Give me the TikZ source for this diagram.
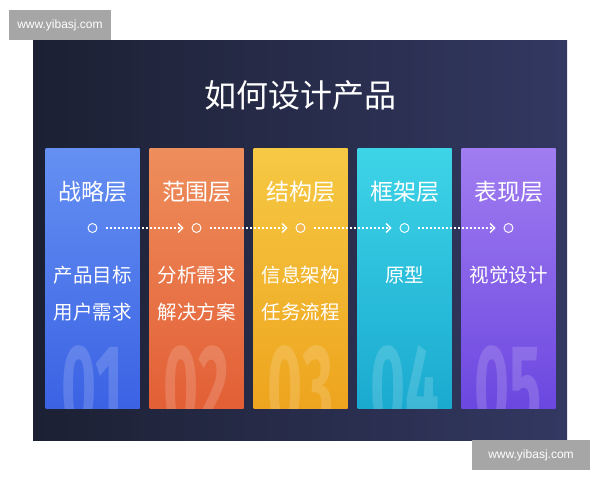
\documentclass[tikz,border=0pt]{standalone}
\usepackage{fontspec}
\usepackage{graphicx}
\setmainfont{Noto Sans CJK SC}
\newfontfamily\markfont{Liberation Sans}
\newfontfamily\numfont{Fira Sans}
\usetikzlibrary{arrows.meta}
\definecolor{panelL}{HTML}{1C2033}
\definecolor{panelR}{HTML}{333862}
\definecolor{blueT}{HTML}{6590F2}
\definecolor{blueB}{HTML}{3B62E4}
\definecolor{orangeT}{HTML}{EE8E5C}
\definecolor{orangeB}{HTML}{E35F36}
\definecolor{yellowT}{HTML}{F6C944}
\definecolor{yellowB}{HTML}{EEA41E}
\definecolor{cyanT}{HTML}{3ED4E7}
\definecolor{cyanB}{HTML}{1AAAD0}
\definecolor{purpleT}{HTML}{A17DF1}
\definecolor{purpleB}{HTML}{6C47E0}
\definecolor{markgray}{HTML}{A6A6A6}
\begin{document}
\begin{tikzpicture}[x=1pt,y=-1pt,
  col/.style={rectangle,inner sep=0,minimum width=94pt,minimum height=260pt},
  head/.style={text=white!96,font=\fontsize{23}{26}\selectfont},
  body/.style={text=white!94,font=\fontsize{19.5}{22}\selectfont},
  dot/.style={circle,inner sep=0,minimum size=9pt,draw=white!75,line width=.9pt},
  flow/.style={white!90,line width=1.3pt,dash pattern=on 1.8pt off 2.2pt,
    -{Straight Barb[length=4.5pt,width=9pt,line width=1.3pt]},shorten <=9pt,shorten >=8pt},
  num/.style={anchor=base,inner sep=0,text=white,text opacity=.16,
    font=\numfont\bfseries\fontsize{120}{120}\selectfont},
  sitemark/.style={fill=markgray,inner sep=0,minimum width=102pt,minimum height=30pt,
    text=white,font=\markfont\fontsize{12}{14}\selectfont}]
  \useasboundingbox[fill=white] (0,0) rectangle (600,480);
  \shade[left color=panelL,right color=panelR] (33,40) rectangle (567,440);
  \node[text=white,font=\fontsize{32}{36}\selectfont] (title) at (300,95) {如何设计产品};
  % columns
  \node[col,top color=blueT,bottom color=blueB] (col1) at (92.5,278) {};
  \node[col,top color=orangeT,bottom color=orangeB] (col2) at (196.5,278) {};
  \node[col,top color=yellowT,bottom color=yellowB] (col3) at (300.5,278) {};
  \node[col,top color=cyanT,bottom color=cyanB] (col4) at (404.5,278) {};
  \node[col,top color=purpleT,bottom color=purpleB] (col5) at (508.5,278) {};
  % big numbers
  \begin{scope}
    \clip (col1.north west) rectangle (col1.south east);
    \node[num] (num1) at (92.5,428) {\scalebox{.5}[1]{01}};
  \end{scope}
  \begin{scope}
    \clip (col2.north west) rectangle (col2.south east);
    \node[num] (num2) at (196.5,428) {\scalebox{.5}[1]{02}};
  \end{scope}
  \begin{scope}
    \clip (col3.north west) rectangle (col3.south east);
    \node[num] (num3) at (300.5,428) {\scalebox{.5}[1]{03}};
  \end{scope}
  \begin{scope}
    \clip (col4.north west) rectangle (col4.south east);
    \node[num] (num4) at (404.5,428) {\scalebox{.5}[1]{04}};
  \end{scope}
  \begin{scope}
    \clip (col5.north west) rectangle (col5.south east);
    \node[num] (num5) at (508.5,428) {\scalebox{.5}[1]{05}};
  \end{scope}
  % headings
  \node[head] (head1) at (92.5,192) {战略层};
  \node[head] (head2) at (196.5,192) {范围层};
  \node[head] (head3) at (300.5,192) {结构层};
  \node[head] (head4) at (404.5,192) {框架层};
  \node[head] (head5) at (508.5,192) {表现层};
  % dots and arrows
  \node[dot,fill=blueT!80!blueB] (dot1) at (92.5,228) {};
  \node[dot,fill=orangeT!85!orangeB] (dot2) at (196.5,228) {};
  \node[dot,fill=yellowT!70!orangeT] (dot3) at (300.5,228) {};
  \node[dot,fill=cyanT!85!cyanB] (dot4) at (404.5,228) {};
  \node[dot,fill=purpleT!85!purpleB] (dot5) at (508.5,228) {};
  \draw[flow] (dot1) -- (dot2);
  \draw[flow] (dot2) -- (dot3);
  \draw[flow] (dot3) -- (dot4);
  \draw[flow] (dot4) -- (dot5);
  % texts
  \node[body] (text1a) at (92.5,275) {产品目标};
  \node[body] (text1b) at (92.5,312) {用户需求};
  \node[body] (text2a) at (196.5,275) {分析需求};
  \node[body] (text2b) at (196.5,312) {解决方案};
  \node[body] (text3a) at (300.5,275) {信息架构};
  \node[body] (text3b) at (300.5,312) {任务流程};
  \node[body] (text4a) at (404.5,275) {原型};
  \node[body] (text5a) at (508.5,275) {视觉设计};
  % watermarks
  \node[sitemark] (mark1) at (60,25) {www.yibasj.com};
  \node[sitemark,minimum width=118pt] (mark2) at (531,455) {www.yibasj.com};
\end{tikzpicture}
\end{document}
